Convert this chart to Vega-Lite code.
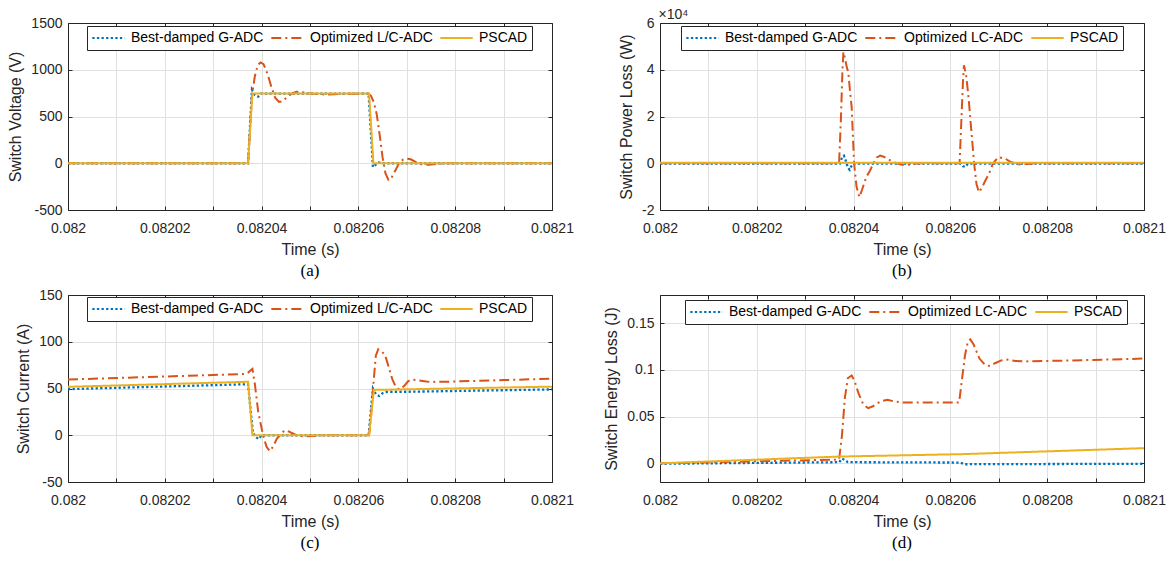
{
"$schema":"https://vega.github.io/schema/vega-lite/v6.json",
"background":"white",
"padding":{"left":7,"top":7,"right":5,"bottom":5},
"columns":2,
"spacing":{"row":9,"column":29},
"config":{
 "font":"Liberation Sans",
 "view":{"stroke":null},
 "axis":{"domainColor":"#262626","tickColor":"#262626","labelColor":"#262626","titleColor":"#262626","labelFont":"Liberation Sans","titleFont":"Liberation Sans","labelFontSize":14,"titleFontSize":16,"titleFontWeight":"normal","gridColor":"#e0e0e0","gridWidth":1,"tickSize":-4,"domainWidth":1,"tickWidth":1,"labelFlush":false,"labelOverlap":false},
 "axisX":{"labelPadding":15,"titlePadding":6.5},
 "axisY":{"labelPadding":10,"titlePadding":7},
 "legend":{"orient":"none","direction":"horizontal","columns":3,"padding":4,"fillColor":"white","strokeColor":"#262626","strokeWidth":1,"symbolType":"stroke","symbolSize":1050,"symbolStrokeWidth":2,"labelFontSize":14,"labelFont":"Liberation Sans","labelColor":"#000000","labelOffset":5,"columnPadding":6,"clipHeight":16,"labelLimit":300},
 "title":{"font":"Liberation Serif","fontSize":17,"fontWeight":"normal","color":"#000000","orient":"bottom","anchor":"middle","offset":5.5}
},
"resolve":{"scale":{"color":"independent","strokeDash":"independent"}},
"datasets":{
 "a":[
  {"t":0.082,"v":0,"s":"Best-damped G-ADC"},{"t":0.0820372,"v":0,"s":"Best-damped G-ADC"},{"t":0.082038,"v":785,"s":"Best-damped G-ADC"},{"t":0.0820386,"v":730,"s":"Best-damped G-ADC"},{"t":0.0820393,"v":712,"s":"Best-damped G-ADC"},{"t":0.0820398,"v":745,"s":"Best-damped G-ADC"},{"t":0.0820621,"v":745,"s":"Best-damped G-ADC"},{"t":0.082063,"v":-40,"s":"Best-damped G-ADC"},{"t":0.0820636,"v":-15,"s":"Best-damped G-ADC"},{"t":0.0820642,"v":8,"s":"Best-damped G-ADC"},{"t":0.082065,"v":0,"s":"Best-damped G-ADC"},{"t":0.0821,"v":0,"s":"Best-damped G-ADC"},
  {"t":0.082,"v":0,"s":"Optimized L/C-ADC"},{"t":0.0820372,"v":0,"s":"Optimized L/C-ADC"},{"t":0.082038,"v":720,"s":"Optimized L/C-ADC"},{"t":0.0820386,"v":930,"s":"Optimized L/C-ADC"},{"t":0.0820392,"v":1050,"s":"Optimized L/C-ADC"},{"t":0.0820398,"v":1078,"s":"Optimized L/C-ADC"},{"t":0.0820404,"v":1060,"s":"Optimized L/C-ADC"},{"t":0.0820412,"v":960,"s":"Optimized L/C-ADC"},{"t":0.082042,"v":820,"s":"Optimized L/C-ADC"},{"t":0.0820428,"v":700,"s":"Optimized L/C-ADC"},{"t":0.0820436,"v":655,"s":"Optimized L/C-ADC"},{"t":0.0820444,"v":665,"s":"Optimized L/C-ADC"},{"t":0.0820452,"v":705,"s":"Optimized L/C-ADC"},{"t":0.0820462,"v":745,"s":"Optimized L/C-ADC"},{"t":0.0820472,"v":765,"s":"Optimized L/C-ADC"},{"t":0.0820482,"v":762,"s":"Optimized L/C-ADC"},{"t":0.0820495,"v":750,"s":"Optimized L/C-ADC"},{"t":0.082051,"v":742,"s":"Optimized L/C-ADC"},{"t":0.082053,"v":735,"s":"Optimized L/C-ADC"},{"t":0.082055,"v":738,"s":"Optimized L/C-ADC"},{"t":0.082058,"v":744,"s":"Optimized L/C-ADC"},{"t":0.082062,"v":745,"s":"Optimized L/C-ADC"},{"t":0.0820626,"v":720,"s":"Optimized L/C-ADC"},{"t":0.0820632,"v":650,"s":"Optimized L/C-ADC"},{"t":0.0820638,"v":520,"s":"Optimized L/C-ADC"},{"t":0.0820644,"v":300,"s":"Optimized L/C-ADC"},{"t":0.082065,"v":60,"s":"Optimized L/C-ADC"},{"t":0.0820656,"v":-110,"s":"Optimized L/C-ADC"},{"t":0.0820662,"v":-178,"s":"Optimized L/C-ADC"},{"t":0.0820668,"v":-160,"s":"Optimized L/C-ADC"},{"t":0.0820676,"v":-80,"s":"Optimized L/C-ADC"},{"t":0.0820684,"v":0,"s":"Optimized L/C-ADC"},{"t":0.0820692,"v":38,"s":"Optimized L/C-ADC"},{"t":0.08207,"v":50,"s":"Optimized L/C-ADC"},{"t":0.0820708,"v":42,"s":"Optimized L/C-ADC"},{"t":0.0820718,"v":15,"s":"Optimized L/C-ADC"},{"t":0.082073,"v":-10,"s":"Optimized L/C-ADC"},{"t":0.0820745,"v":-15,"s":"Optimized L/C-ADC"},{"t":0.082076,"v":-8,"s":"Optimized L/C-ADC"},{"t":0.082078,"v":0,"s":"Optimized L/C-ADC"},{"t":0.0821,"v":0,"s":"Optimized L/C-ADC"},
  {"t":0.082,"v":0,"s":"PSCAD"},{"t":0.0820372,"v":0,"s":"PSCAD"},{"t":0.0820381,"v":745,"s":"PSCAD"},{"t":0.0820622,"v":745,"s":"PSCAD"},{"t":0.0820631,"v":0,"s":"PSCAD"},{"t":0.0821,"v":0,"s":"PSCAD"}
 ],
 "b":[
  {"t":0.082,"v":-200,"s":"Best-damped G-ADC"},{"t":0.0820372,"v":-200,"s":"Best-damped G-ADC"},{"t":0.0820376,"v":2500,"s":"Best-damped G-ADC"},{"t":0.082038,"v":3200,"s":"Best-damped G-ADC"},{"t":0.0820384,"v":1000,"s":"Best-damped G-ADC"},{"t":0.0820388,"v":-1800,"s":"Best-damped G-ADC"},{"t":0.0820392,"v":-2800,"s":"Best-damped G-ADC"},{"t":0.0820396,"v":-1000,"s":"Best-damped G-ADC"},{"t":0.08204,"v":-200,"s":"Best-damped G-ADC"},{"t":0.0820622,"v":-200,"s":"Best-damped G-ADC"},{"t":0.0820626,"v":-1300,"s":"Best-damped G-ADC"},{"t":0.0820631,"v":-1500,"s":"Best-damped G-ADC"},{"t":0.0820636,"v":-200,"s":"Best-damped G-ADC"},{"t":0.0821,"v":-200,"s":"Best-damped G-ADC"},
  {"t":0.082,"v":0,"s":"Optimized LC-ADC"},{"t":0.082037,"v":0,"s":"Optimized LC-ADC"},{"t":0.0820374,"v":20000,"s":"Optimized LC-ADC"},{"t":0.0820377,"v":40000,"s":"Optimized LC-ADC"},{"t":0.0820379,"v":47600,"s":"Optimized LC-ADC"},{"t":0.0820382,"v":45000,"s":"Optimized LC-ADC"},{"t":0.0820386,"v":41000,"s":"Optimized LC-ADC"},{"t":0.0820389,"v":39000,"s":"Optimized LC-ADC"},{"t":0.0820393,"v":30000,"s":"Optimized LC-ADC"},{"t":0.0820396,"v":24000,"s":"Optimized LC-ADC"},{"t":0.0820401,"v":0,"s":"Optimized LC-ADC"},{"t":0.0820406,"v":-10000,"s":"Optimized LC-ADC"},{"t":0.0820412,"v":-14500,"s":"Optimized LC-ADC"},{"t":0.0820418,"v":-11000,"s":"Optimized LC-ADC"},{"t":0.0820426,"v":-6000,"s":"Optimized LC-ADC"},{"t":0.0820434,"v":-3100,"s":"Optimized LC-ADC"},{"t":0.0820441,"v":0,"s":"Optimized LC-ADC"},{"t":0.0820448,"v":2500,"s":"Optimized LC-ADC"},{"t":0.0820455,"v":3300,"s":"Optimized LC-ADC"},{"t":0.0820462,"v":2800,"s":"Optimized LC-ADC"},{"t":0.0820469,"v":2000,"s":"Optimized LC-ADC"},{"t":0.082048,"v":700,"s":"Optimized LC-ADC"},{"t":0.0820489,"v":0,"s":"Optimized LC-ADC"},{"t":0.08205,"v":-600,"s":"Optimized LC-ADC"},{"t":0.082051,"v":-700,"s":"Optimized LC-ADC"},{"t":0.0820525,"v":-200,"s":"Optimized LC-ADC"},{"t":0.082054,"v":0,"s":"Optimized LC-ADC"},{"t":0.0820619,"v":0,"s":"Optimized LC-ADC"},{"t":0.0820623,"v":20000,"s":"Optimized LC-ADC"},{"t":0.0820626,"v":35000,"s":"Optimized LC-ADC"},{"t":0.0820628,"v":41900,"s":"Optimized LC-ADC"},{"t":0.082063,"v":40000,"s":"Optimized LC-ADC"},{"t":0.0820633,"v":36900,"s":"Optimized LC-ADC"},{"t":0.0820638,"v":27000,"s":"Optimized LC-ADC"},{"t":0.0820642,"v":17000,"s":"Optimized LC-ADC"},{"t":0.0820649,"v":0,"s":"Optimized LC-ADC"},{"t":0.0820654,"v":-9000,"s":"Optimized LC-ADC"},{"t":0.0820659,"v":-12400,"s":"Optimized LC-ADC"},{"t":0.0820665,"v":-10500,"s":"Optimized LC-ADC"},{"t":0.0820672,"v":-7500,"s":"Optimized LC-ADC"},{"t":0.082068,"v":-4400,"s":"Optimized LC-ADC"},{"t":0.0820688,"v":0,"s":"Optimized LC-ADC"},{"t":0.0820699,"v":2600,"s":"Optimized LC-ADC"},{"t":0.0820713,"v":2000,"s":"Optimized LC-ADC"},{"t":0.0820725,"v":500,"s":"Optimized LC-ADC"},{"t":0.0820741,"v":-500,"s":"Optimized LC-ADC"},{"t":0.082076,"v":-300,"s":"Optimized LC-ADC"},{"t":0.0820775,"v":0,"s":"Optimized LC-ADC"},{"t":0.0821,"v":0,"s":"Optimized LC-ADC"},
  {"t":0.082,"v":200,"s":"PSCAD"},{"t":0.08205,"v":200,"s":"PSCAD"},{"t":0.0821,"v":200,"s":"PSCAD"}
 ],
 "c":[
  {"t":0.082,"v":49.3,"s":"Best-damped G-ADC"},{"t":0.0820372,"v":54.6,"s":"Best-damped G-ADC"},{"t":0.0820382,"v":3,"s":"Best-damped G-ADC"},{"t":0.0820388,"v":-2,"s":"Best-damped G-ADC"},{"t":0.0820394,"v":-4,"s":"Best-damped G-ADC"},{"t":0.08204,"v":0,"s":"Best-damped G-ADC"},{"t":0.0820621,"v":0,"s":"Best-damped G-ADC"},{"t":0.082063,"v":50,"s":"Best-damped G-ADC"},{"t":0.0820636,"v":44,"s":"Best-damped G-ADC"},{"t":0.0820643,"v":42,"s":"Best-damped G-ADC"},{"t":0.082065,"v":45,"s":"Best-damped G-ADC"},{"t":0.082066,"v":46.5,"s":"Best-damped G-ADC"},{"t":0.08207,"v":46.5,"s":"Best-damped G-ADC"},{"t":0.0821,"v":49,"s":"Best-damped G-ADC"},
  {"t":0.082,"v":59.6,"s":"Optimized L/C-ADC"},{"t":0.0820365,"v":65.5,"s":"Optimized L/C-ADC"},{"t":0.0820372,"v":67,"s":"Optimized L/C-ADC"},{"t":0.0820381,"v":71,"s":"Optimized L/C-ADC"},{"t":0.0820386,"v":55,"s":"Optimized L/C-ADC"},{"t":0.0820393,"v":25,"s":"Optimized L/C-ADC"},{"t":0.0820403,"v":0,"s":"Optimized L/C-ADC"},{"t":0.082041,"v":-12,"s":"Optimized L/C-ADC"},{"t":0.0820417,"v":-17,"s":"Optimized L/C-ADC"},{"t":0.0820424,"v":-12,"s":"Optimized L/C-ADC"},{"t":0.0820431,"v":-4,"s":"Optimized L/C-ADC"},{"t":0.0820438,"v":0,"s":"Optimized L/C-ADC"},{"t":0.0820445,"v":4,"s":"Optimized L/C-ADC"},{"t":0.0820451,"v":5.4,"s":"Optimized L/C-ADC"},{"t":0.082046,"v":3,"s":"Optimized L/C-ADC"},{"t":0.0820472,"v":0,"s":"Optimized L/C-ADC"},{"t":0.0820485,"v":-1.2,"s":"Optimized L/C-ADC"},{"t":0.0820496,"v":-1.2,"s":"Optimized L/C-ADC"},{"t":0.082051,"v":-0.5,"s":"Optimized L/C-ADC"},{"t":0.082053,"v":0,"s":"Optimized L/C-ADC"},{"t":0.0820622,"v":0,"s":"Optimized L/C-ADC"},{"t":0.0820626,"v":20,"s":"Optimized L/C-ADC"},{"t":0.0820631,"v":55,"s":"Optimized L/C-ADC"},{"t":0.0820636,"v":85,"s":"Optimized L/C-ADC"},{"t":0.0820641,"v":92,"s":"Optimized L/C-ADC"},{"t":0.0820647,"v":90,"s":"Optimized L/C-ADC"},{"t":0.0820655,"v":86,"s":"Optimized L/C-ADC"},{"t":0.0820662,"v":74,"s":"Optimized L/C-ADC"},{"t":0.082067,"v":60,"s":"Optimized L/C-ADC"},{"t":0.0820678,"v":51,"s":"Optimized L/C-ADC"},{"t":0.0820685,"v":49,"s":"Optimized L/C-ADC"},{"t":0.0820695,"v":53,"s":"Optimized L/C-ADC"},{"t":0.0820703,"v":58,"s":"Optimized L/C-ADC"},{"t":0.082071,"v":59.5,"s":"Optimized L/C-ADC"},{"t":0.082072,"v":59,"s":"Optimized L/C-ADC"},{"t":0.082074,"v":57.5,"s":"Optimized L/C-ADC"},{"t":0.082076,"v":57,"s":"Optimized L/C-ADC"},{"t":0.08208,"v":57.5,"s":"Optimized L/C-ADC"},{"t":0.08209,"v":59,"s":"Optimized L/C-ADC"},{"t":0.0821,"v":60.5,"s":"Optimized L/C-ADC"},
  {"t":0.082,"v":51.8,"s":"PSCAD"},{"t":0.0820372,"v":57.2,"s":"PSCAD"},{"t":0.0820381,"v":0,"s":"PSCAD"},{"t":0.0820622,"v":0,"s":"PSCAD"},{"t":0.0820632,"v":48.5,"s":"PSCAD"},{"t":0.0821,"v":52,"s":"PSCAD"}
 ],
 "d":[
  {"t":0.082,"v":-0.0005,"s":"Best-damped G-ADC"},{"t":0.082037,"v":0.0012,"s":"Best-damped G-ADC"},{"t":0.0820376,"v":0.005,"s":"Best-damped G-ADC"},{"t":0.0820382,"v":0.0035,"s":"Best-damped G-ADC"},{"t":0.0820388,"v":0.0012,"s":"Best-damped G-ADC"},{"t":0.082062,"v":0.0008,"s":"Best-damped G-ADC"},{"t":0.082063,"v":-0.001,"s":"Best-damped G-ADC"},{"t":0.0821,"v":-0.0005,"s":"Best-damped G-ADC"},
  {"t":0.082,"v":0,"s":"Optimized LC-ADC"},{"t":0.082037,"v":0.004,"s":"Optimized LC-ADC"},{"t":0.0820376,"v":0.03,"s":"Optimized LC-ADC"},{"t":0.0820382,"v":0.07,"s":"Optimized LC-ADC"},{"t":0.0820388,"v":0.091,"s":"Optimized LC-ADC"},{"t":0.0820396,"v":0.094,"s":"Optimized LC-ADC"},{"t":0.0820402,"v":0.088,"s":"Optimized LC-ADC"},{"t":0.082041,"v":0.075,"s":"Optimized LC-ADC"},{"t":0.082042,"v":0.063,"s":"Optimized LC-ADC"},{"t":0.082043,"v":0.059,"s":"Optimized LC-ADC"},{"t":0.082044,"v":0.061,"s":"Optimized LC-ADC"},{"t":0.0820455,"v":0.066,"s":"Optimized LC-ADC"},{"t":0.082047,"v":0.068,"s":"Optimized LC-ADC"},{"t":0.0820485,"v":0.066,"s":"Optimized LC-ADC"},{"t":0.08205,"v":0.065,"s":"Optimized LC-ADC"},{"t":0.0820618,"v":0.065,"s":"Optimized LC-ADC"},{"t":0.0820624,"v":0.09,"s":"Optimized LC-ADC"},{"t":0.082063,"v":0.115,"s":"Optimized LC-ADC"},{"t":0.0820636,"v":0.13,"s":"Optimized LC-ADC"},{"t":0.0820641,"v":0.1325,"s":"Optimized LC-ADC"},{"t":0.0820648,"v":0.127,"s":"Optimized LC-ADC"},{"t":0.082066,"v":0.112,"s":"Optimized LC-ADC"},{"t":0.0820672,"v":0.105,"s":"Optimized LC-ADC"},{"t":0.0820682,"v":0.104,"s":"Optimized LC-ADC"},{"t":0.0820692,"v":0.107,"s":"Optimized LC-ADC"},{"t":0.0820705,"v":0.11,"s":"Optimized LC-ADC"},{"t":0.0820715,"v":0.111,"s":"Optimized LC-ADC"},{"t":0.0820735,"v":0.1095,"s":"Optimized LC-ADC"},{"t":0.082076,"v":0.109,"s":"Optimized LC-ADC"},{"t":0.082085,"v":0.11,"s":"Optimized LC-ADC"},{"t":0.0821,"v":0.112,"s":"Optimized LC-ADC"},
  {"t":0.082,"v":0,"s":"PSCAD"},{"t":0.082037,"v":0.0072,"s":"PSCAD"},{"t":0.0820625,"v":0.0098,"s":"PSCAD"},{"t":0.0821,"v":0.0162,"s":"PSCAD"}
 ]
},
"concat":[
 {"width":484,"height":187,"data":{"name":"a"},"title":{"text":"(a)"},
  "layer":[
   {"encoding":{
     "x":{"field":"t","type":"quantitative","scale":{"domain":[0.082,0.0821],"nice":false,"zero":false},"axis":{"orient":"bottom","values":[0.082,0.08201,0.08202,0.08203,0.08204,0.08205,0.08206,0.08207,0.08208,0.08209,0.0821],"labelExpr":"round(datum.value*100000)%2===0 ? ''+datum.value : ''","title":"Time (s)","grid":true}},
     "y":{"field":"v","type":"quantitative","scale":{"domain":[-500,1500],"nice":false,"zero":false},"axis":{"orient":"left","values":[-500,0,500,1000,1500],"labelExpr":"''+datum.value","title":"Switch Voltage (V)","grid":true}},
     "color":{"field":"s","type":"nominal","scale":{"domain":["Best-damped G-ADC","Optimized L/C-ADC","PSCAD"],"range":["#0072BD","#D95319","#EDB120"]},"legend":{"title":null,"legendX":19,"legendY":3}},
     "strokeDash":{"field":"s","type":"nominal","scale":{"domain":["Best-damped G-ADC","Optimized L/C-ADC","PSCAD"],"range":[[2.3,2.3],[10,4,2,4],[1,0]]},"legend":{"title":null,"legendX":19,"legendY":3}}},
    "layer":[
     {"transform":[{"filter":"datum.s==='Best-damped G-ADC'"}],"mark":{"type":"line","strokeWidth":2.3,"strokeCap":"butt"}},
     {"transform":[{"filter":"datum.s==='Optimized L/C-ADC'"}],"mark":{"type":"line","strokeWidth":2}},
     {"transform":[{"filter":"datum.s==='PSCAD'"}],"mark":{"type":"line","strokeWidth":2}}
    ]},
   {"mark":{"type":"point","opacity":0},"encoding":{
     "x":{"field":"t","type":"quantitative","scale":{"domain":[0.082,0.0821],"nice":false,"zero":false},"axis":{"orient":"top","values":[0.082,0.08201,0.08202,0.08203,0.08204,0.08205,0.08206,0.08207,0.08208,0.08209,0.0821],"labels":false,"grid":false,"title":null}},
     "y":{"field":"v","type":"quantitative","scale":{"domain":[-500,1500],"nice":false,"zero":false},"axis":{"orient":"right","values":[-500,0,500,1000,1500],"labels":false,"grid":false,"title":null}}}}
  ],
  "resolve":{"axis":{"x":"independent","y":"independent"}}},
 {"width":484,"height":187,"data":{"name":"b"},"title":{"text":"(b)"},
  "layer":[
   {"encoding":{
     "x":{"field":"t","type":"quantitative","scale":{"domain":[0.082,0.0821],"nice":false,"zero":false},"axis":{"orient":"bottom","values":[0.082,0.08201,0.08202,0.08203,0.08204,0.08205,0.08206,0.08207,0.08208,0.08209,0.0821],"labelExpr":"round(datum.value*100000)%2===0 ? ''+datum.value : ''","title":"Time (s)","grid":true}},
     "y":{"field":"v","type":"quantitative","scale":{"domain":[-20000,60000],"nice":false,"zero":false},"axis":{"orient":"left","values":[-20000,0,20000,40000,60000],"labelExpr":"''+(datum.value/10000)","title":"Switch Power Loss (W)","grid":true}},
     "color":{"field":"s","type":"nominal","scale":{"domain":["Best-damped G-ADC","Optimized LC-ADC","PSCAD"],"range":["#0072BD","#D95319","#EDB120"]},"legend":{"title":null,"legendX":21,"legendY":3}},
     "strokeDash":{"field":"s","type":"nominal","scale":{"domain":["Best-damped G-ADC","Optimized LC-ADC","PSCAD"],"range":[[2.3,2.3],[10,4,2,4],[1,0]]},"legend":{"title":null,"legendX":21,"legendY":3}}},
    "layer":[
     {"transform":[{"filter":"datum.s==='Best-damped G-ADC'"}],"mark":{"type":"line","strokeWidth":2.3,"strokeCap":"butt"}},
     {"transform":[{"filter":"datum.s==='Optimized LC-ADC'"}],"mark":{"type":"line","strokeWidth":2}},
     {"transform":[{"filter":"datum.s==='PSCAD'"}],"mark":{"type":"line","strokeWidth":2}}
    ]},
   {"mark":{"type":"point","opacity":0},"encoding":{
     "x":{"field":"t","type":"quantitative","scale":{"domain":[0.082,0.0821],"nice":false,"zero":false},"axis":{"orient":"top","values":[0.082,0.08201,0.08202,0.08203,0.08204,0.08205,0.08206,0.08207,0.08208,0.08209,0.0821],"labels":false,"grid":false,"title":"×10⁴","titleAngle":0,"titleAnchor":"start","titleAlign":"left","titleBaseline":"alphabetic","titleX":-2,"titleY":-5,"titleFontSize":14}},
     "y":{"field":"v","type":"quantitative","scale":{"domain":[-20000,60000],"nice":false,"zero":false},"axis":{"orient":"right","values":[-20000,0,20000,40000,60000],"labels":false,"grid":false,"title":null}}}}
  ],
  "resolve":{"axis":{"x":"independent","y":"independent"}}},
 {"width":484,"height":187,"data":{"name":"c"},"title":{"text":"(c)"},
  "layer":[
   {"encoding":{
     "x":{"field":"t","type":"quantitative","scale":{"domain":[0.082,0.0821],"nice":false,"zero":false},"axis":{"orient":"bottom","values":[0.082,0.08201,0.08202,0.08203,0.08204,0.08205,0.08206,0.08207,0.08208,0.08209,0.0821],"labelExpr":"round(datum.value*100000)%2===0 ? ''+datum.value : ''","title":"Time (s)","grid":true}},
     "y":{"field":"v","type":"quantitative","scale":{"domain":[-50,150],"nice":false,"zero":false},"axis":{"orient":"left","values":[-50,0,50,100,150],"labelExpr":"''+datum.value","title":"Switch Current (A)","grid":true}},
     "color":{"field":"s","type":"nominal","scale":{"domain":["Best-damped G-ADC","Optimized L/C-ADC","PSCAD"],"range":["#0072BD","#D95319","#EDB120"]},"legend":{"title":null,"legendX":19,"legendY":2}},
     "strokeDash":{"field":"s","type":"nominal","scale":{"domain":["Best-damped G-ADC","Optimized L/C-ADC","PSCAD"],"range":[[2.3,2.3],[10,4,2,4],[1,0]]},"legend":{"title":null,"legendX":19,"legendY":2}}},
    "layer":[
     {"transform":[{"filter":"datum.s==='Best-damped G-ADC'"}],"mark":{"type":"line","strokeWidth":2.3,"strokeCap":"butt"}},
     {"transform":[{"filter":"datum.s==='Optimized L/C-ADC'"}],"mark":{"type":"line","strokeWidth":2}},
     {"transform":[{"filter":"datum.s==='PSCAD'"}],"mark":{"type":"line","strokeWidth":2}}
    ]},
   {"mark":{"type":"point","opacity":0},"encoding":{
     "x":{"field":"t","type":"quantitative","scale":{"domain":[0.082,0.0821],"nice":false,"zero":false},"axis":{"orient":"top","values":[0.082,0.08201,0.08202,0.08203,0.08204,0.08205,0.08206,0.08207,0.08208,0.08209,0.0821],"labels":false,"grid":false,"title":null}},
     "y":{"field":"v","type":"quantitative","scale":{"domain":[-50,150],"nice":false,"zero":false},"axis":{"orient":"right","values":[-50,0,50,100,150],"labels":false,"grid":false,"title":null}}}}
  ],
  "resolve":{"axis":{"x":"independent","y":"independent"}}},
 {"width":484,"height":187,"data":{"name":"d"},"title":{"text":"(d)"},
  "layer":[
   {"encoding":{
     "x":{"field":"t","type":"quantitative","scale":{"domain":[0.082,0.0821],"nice":false,"zero":false},"axis":{"orient":"bottom","values":[0.082,0.08201,0.08202,0.08203,0.08204,0.08205,0.08206,0.08207,0.08208,0.08209,0.0821],"labelExpr":"round(datum.value*100000)%2===0 ? ''+datum.value : ''","title":"Time (s)","grid":true}},
     "y":{"field":"v","type":"quantitative","scale":{"domain":[-0.02,0.18],"nice":false,"zero":false},"axis":{"orient":"left","values":[0,0.05,0.1,0.15],"labelExpr":"''+datum.value","title":"Switch Energy Loss (J)","grid":true}},
     "color":{"field":"s","type":"nominal","scale":{"domain":["Best-damped G-ADC","Optimized LC-ADC","PSCAD"],"range":["#0072BD","#D95319","#EDB120"]},"legend":{"title":null,"legendX":25,"legendY":5}},
     "strokeDash":{"field":"s","type":"nominal","scale":{"domain":["Best-damped G-ADC","Optimized LC-ADC","PSCAD"],"range":[[2.3,2.3],[10,4,2,4],[1,0]]},"legend":{"title":null,"legendX":25,"legendY":5}}},
    "layer":[
     {"transform":[{"filter":"datum.s==='Best-damped G-ADC'"}],"mark":{"type":"line","strokeWidth":2.3,"strokeCap":"butt"}},
     {"transform":[{"filter":"datum.s==='Optimized LC-ADC'"}],"mark":{"type":"line","strokeWidth":2}},
     {"transform":[{"filter":"datum.s==='PSCAD'"}],"mark":{"type":"line","strokeWidth":2}}
    ]},
   {"mark":{"type":"point","opacity":0},"encoding":{
     "x":{"field":"t","type":"quantitative","scale":{"domain":[0.082,0.0821],"nice":false,"zero":false},"axis":{"orient":"top","values":[0.082,0.08201,0.08202,0.08203,0.08204,0.08205,0.08206,0.08207,0.08208,0.08209,0.0821],"labels":false,"grid":false,"title":null}},
     "y":{"field":"v","type":"quantitative","scale":{"domain":[-0.02,0.18],"nice":false,"zero":false},"axis":{"orient":"right","values":[0,0.05,0.1,0.15],"labels":false,"grid":false,"title":null}}}}
  ],
  "resolve":{"axis":{"x":"independent","y":"independent"}}}
]
}
